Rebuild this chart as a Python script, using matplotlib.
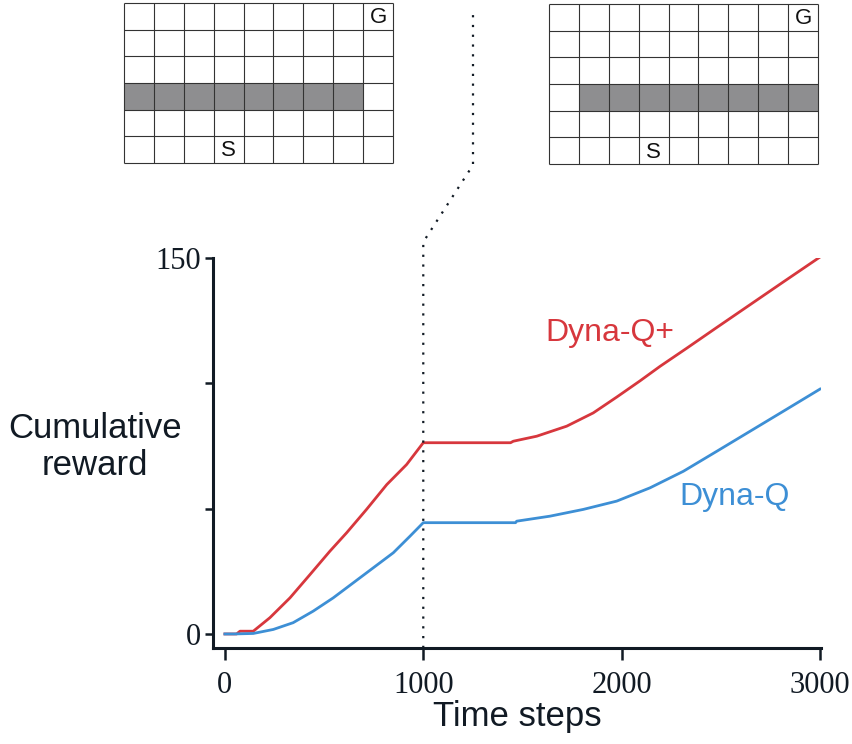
import matplotlib
matplotlib.use("Agg")
import matplotlib.pyplot as plt
import numpy as np
from matplotlib.lines import Line2D

# cumulative reward curves
red_x = [0, 59, 76, 143, 227, 328, 429, 529, 614, 714, 816, 916, 1000,
         1440, 1454, 1572, 1723, 1857, 1975, 2093, 2194, 2328, 2480, 2648, 2816, 3000]
red_y = [0, 0, 1.1, 1.1, 6.5, 14.4, 23.7, 33, 40.4, 49.7, 59.6, 67.6, 76.3,
         76.3, 76.9, 78.9, 82.9, 88.2, 94.5, 101, 106.8, 114, 122.3, 131.4, 140.5, 150.4]
blue_x = [0, 43, 143, 244, 344, 445, 546, 647, 748, 849, 933, 1000,
          1465, 1471, 1639, 1807, 1975, 2143, 2311, 2480, 2648, 2816, 3000]
blue_y = [0, 0, 0.2, 1.8, 4.5, 9.1, 14.4, 20.4, 26.4, 32.4, 39, 44.4,
          44.4, 45, 47, 49.7, 53, 58.3, 64.9, 72.9, 80.9, 88.9, 97.7]

x_ticks = [0, 1000, 2000, 3000]
y_ticks = [0, 50, 100, 150]
y_labels = ["0", "", "", "150"]

# mazes: '#' wall, 'G' goal, 'S' start
maze_before = [
    "........G",
    ".........",
    ".........",
    "########.",
    ".........",
    "...S.....",
]
maze_after = [
    "........G",
    ".........",
    ".........",
    ".########",
    ".........",
    "...S.....",
]

RED = "#d7373d"
BLUE = "#3d8fd5"
INK = "#111a24"
W, H = 853, 744

fig = plt.figure(figsize=(W / 100, H / 100), dpi=100)

def px_axes(x0, y0, x1, y1):
    return fig.add_axes([x0 / W, 1 - y1 / H, (x1 - x0) / W, (y1 - y0) / H])

ax = px_axes(213, 258, 821, 648)
ax.plot(red_x, red_y, color=RED, lw=2.0, solid_joinstyle="round")
ax.plot(blue_x, blue_y, color=BLUE, lw=2.0, solid_joinstyle="round")
ax.set_xlim(-60, 3005)
ax.set_ylim(-5.6, 150)
ax.set_xticks(x_ticks)
ax.set_yticks(y_ticks)
ax.set_yticklabels(y_labels)
for s in ["top", "right"]:
    ax.spines[s].set_visible(False)
for s in ["left", "bottom"]:
    ax.spines[s].set_linewidth(2.2)
    ax.spines[s].set_color(INK)
ax.tick_params(axis="y", length=5.5, width=1.8, color=INK, pad=3)
ax.tick_params(axis="x", length=8.5, width=1.8, color=INK, pad=8)
for lab in ax.get_xticklabels() + ax.get_yticklabels():
    lab.set_fontfamily("Liberation Serif")
    lab.set_fontsize(22)
    lab.set_color(INK)

ax.set_xlabel("Time steps", fontsize=25, family="Liberation Sans", color=INK, labelpad=0)
fig.text(95 / W, 1 - 447 / H, "Cumulative\nreward", fontsize=25, family="Liberation Sans",
         color=INK, ha="center", va="center", linespacing=1.12)
ax.text(1943, 120.2, "Dyna-Q+", color=RED, fontsize=23, family="Liberation Sans",
        va="center", ha="center")
ax.text(2569, 54.5, "Dyna-Q", color=BLUE, fontsize=23, family="Liberation Sans",
        va="center", ha="center")

# dotted connector from the switch point up to between the mazes
x1000 = ax.transData.transform((1000, 0))[0]
pts_px = [(x1000, H - 648), (x1000, H - 242), (473, H - 165), (473, H - 12)]
fx = [p[0] / W for p in pts_px]
fy = [p[1] / H for p in pts_px]
fig.add_artist(Line2D(fx, fy, transform=fig.transFigure, color=INK, lw=1.6,
                      linestyle=(0, (1, 3.4)), dash_capstyle="butt"))

def draw_maze(axm, layout):
    nr, nc = len(layout), len(layout[0])
    walls = np.array([[1 if ch == "#" else 0 for ch in row] for row in layout])
    axm.pcolormesh(np.arange(nc + 1), np.arange(nr + 1), walls,
                   cmap=matplotlib.colors.ListedColormap(["white", "#8e8e90"]))
    axm.hlines(np.arange(nr + 1), 0, nc, color="#333333", lw=0.8, clip_on=False)
    axm.vlines(np.arange(nc + 1), 0, nr, color="#333333", lw=0.8, clip_on=False)
    for r, row in enumerate(layout):
        for c, ch in enumerate(row):
            if ch in "GS":
                axm.text(c + 0.5, r + 0.55, ch, ha="center", va="center",
                         fontsize=16, family="Liberation Sans", color="#111111")
    axm.set_xlim(0, nc)
    axm.set_ylim(nr, 0)
    axm.set_axis_off()

draw_maze(px_axes(124, 3, 393, 163), maze_before)
draw_maze(px_axes(549, 4, 818, 164), maze_after)

fig.savefig("out.png", dpi=100)
